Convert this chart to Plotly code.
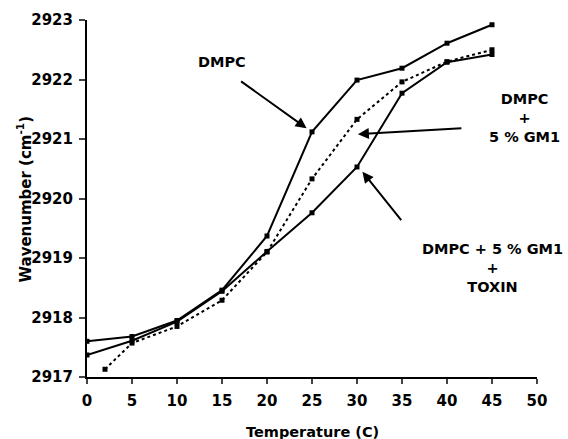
import plotly.graph_objects as go

# Temperature (C)
temp_dmpc = [0, 5, 10, 15, 20, 25, 30, 35, 40, 45]
wn_dmpc = [2917.60, 2917.68, 2917.95, 2918.46, 2919.37, 2921.12, 2921.99, 2922.19, 2922.61, 2922.92]

temp_gm1 = [2, 5, 10, 15, 20, 25, 30, 35, 40, 45]
wn_gm1 = [2917.13, 2917.57, 2917.85, 2918.29, 2919.10, 2920.33, 2921.33, 2921.96, 2922.30, 2922.50]

temp_tox = [0, 5, 10, 15, 20, 25, 30, 35, 40, 45]
wn_tox = [2917.37, 2917.61, 2917.93, 2918.44, 2919.11, 2919.76, 2920.53, 2921.77, 2922.29, 2922.42]

x_ticks = [0, 5, 10, 15, 20, 25, 30, 35, 40, 45, 50]
y_ticks = [2917, 2918, 2919, 2920, 2921, 2922, 2923]

FONT = "DejaVu Sans, Arial, sans-serif"

fig = go.Figure()
fig.add_trace(go.Scatter(x=temp_dmpc, y=wn_dmpc, mode="lines+markers", name="DMPC",
                         line=dict(color="black", width=2),
                         marker=dict(symbol="square", size=5, color="black")))
fig.add_trace(go.Scatter(x=temp_gm1, y=wn_gm1, mode="lines+markers", name="DMPC + 5 % GM1",
                         line=dict(color="black", width=2, dash="dot"),
                         marker=dict(symbol="square", size=5, color="black")))
fig.add_trace(go.Scatter(x=temp_tox, y=wn_tox, mode="lines+markers", name="DMPC + 5 % GM1 + TOXIN",
                         line=dict(color="black", width=2),
                         marker=dict(symbol="square", size=5, color="black")))

tick_font = dict(family=FONT, size=15, color="black", weight="bold")

fig.update_layout(
    width=568, height=439,
    margin=dict(l=87, r=31, t=20, b=62, pad=0, autoexpand=False),
    paper_bgcolor="white", plot_bgcolor="white",
    showlegend=False,
    xaxis=dict(range=[0, 50], tickvals=x_ticks, ticks="outside", ticklen=5, tickwidth=1.5,
               showline=True, linecolor="black", linewidth=2, showgrid=False, zeroline=False,
               tickfont=tick_font, ticklabelstandoff=4, automargin=False),
    yaxis=dict(range=[2917, 2923], tickvals=y_ticks, ticks="outside", ticklen=6, tickwidth=1.5,
               showline=True, linecolor="black", linewidth=2, showgrid=False, zeroline=False,
               tickfont=tick_font, tickformat="d", ticklabelstandoff=3, automargin=False),
)

ann_font = dict(family=FONT, size=14.5, color="black", weight="bold")

# axis titles
fig.add_annotation(text="Temperature (C)", xref="paper", yref="paper", x=0.5, y=-0.154,
                   showarrow=False, font=dict(family=FONT, size=14.5, color="black", weight="bold"),
                   yanchor="middle")
fig.add_annotation(text="Wavenumber (cm<sup>-1</sup>)", xref="paper", yref="paper", x=-0.14, y=0.5,
                   showarrow=False, font=dict(family=FONT, size=15, color="black", weight="bold"),
                   textangle=-90, xanchor="center", yanchor="middle")

# labels
fig.add_annotation(text="DMPC", x=15, y=2922.29, showarrow=False, font=ann_font)
fig.add_annotation(text="DMPC<br>+<br>5 % GM1", x=48.6, y=2921.35, showarrow=False, font=ann_font)
fig.add_annotation(text="DMPC + 5 % GM1<br>+<br>TOXIN", x=45.1, y=2918.83, showarrow=False, font=ann_font)

# arrows
arrow = dict(showarrow=True, arrowhead=2, arrowsize=1.1, arrowwidth=2, arrowcolor="black", text="")
fig.add_annotation(x=24.4, y=2921.18, ax=-67, ay=-48, **arrow)
fig.add_annotation(x=30.1, y=2921.08, ax=105, ay=-6, **arrow)
fig.add_annotation(x=30.6, y=2920.45, ax=40, ay=50, **arrow)

fig.write_html("out.html", config={"displayModeBar": False},
               post_script="document.body.style.margin='0';document.body.style.overflow='hidden';")
